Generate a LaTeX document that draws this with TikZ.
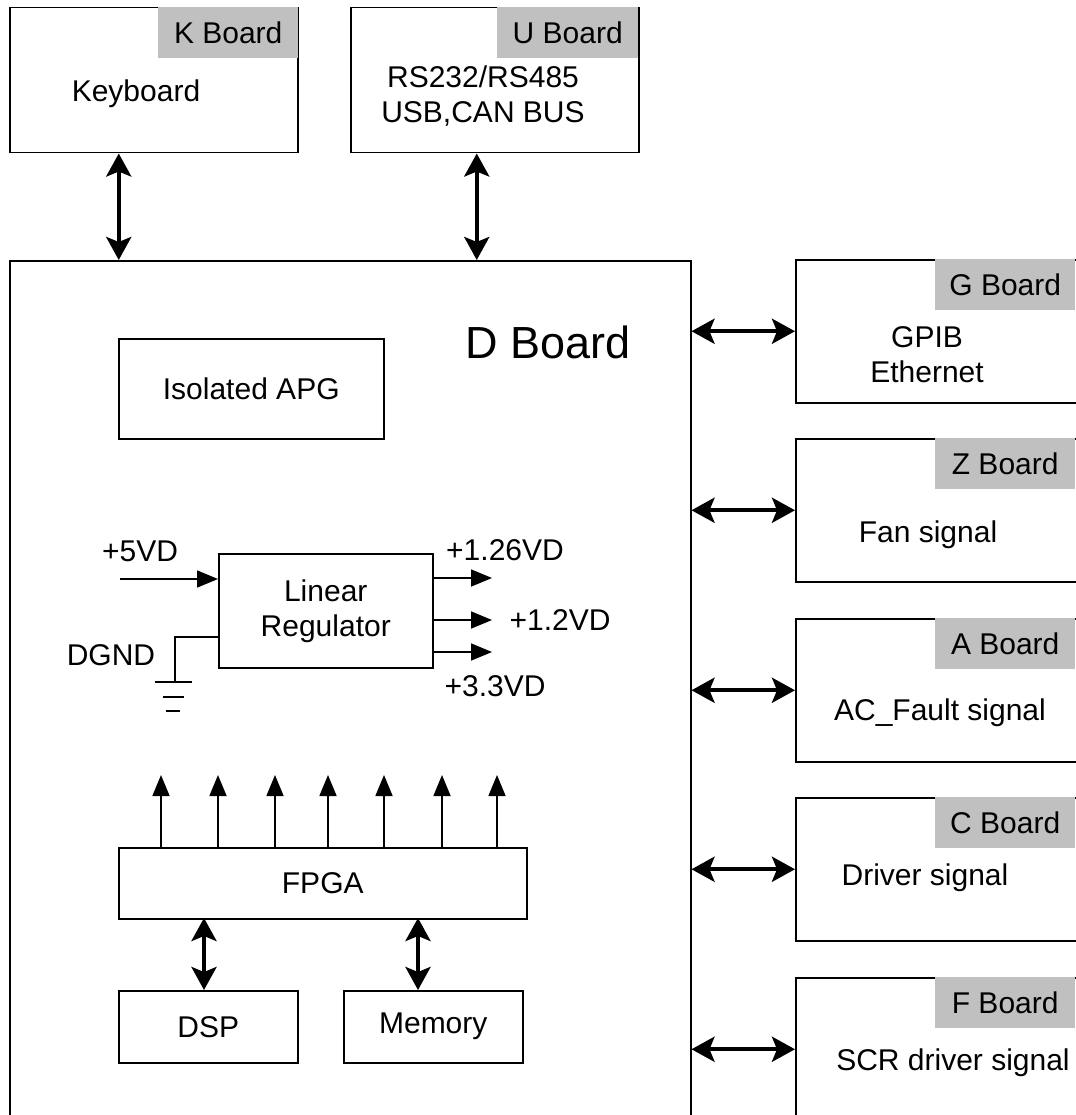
\documentclass[tikz,border=0pt]{standalone}
\usepackage{fontspec}
\setmainfont{Liberation Sans}
\usetikzlibrary{arrows.meta,calc}
\definecolor{lblgray}{RGB}{192,192,192}
\begin{document}
\begin{tikzpicture}[x=1pt,y=-1pt,
  box/.style={draw=black,line width=1.5pt,fill=white,inner sep=0pt,anchor=north west},
  lbl/.style={fill=lblgray,inner sep=0pt,anchor=north west,minimum width=140pt,minimum height=51pt,font=\fontsize{30}{35}\selectfont},
  txt/.style={inner sep=0pt,align=center,font=\fontsize{30}{35}\selectfont},
  dbl/.style={line width=4pt,{Stealth[length=23pt,width=25pt,inset=5pt]}-{Stealth[length=23pt,width=25pt,inset=5pt]}},
  sarr/.style={line width=1.6pt,-{Triangle[length=21pt,width=17pt]}},
  wire/.style={line width=1.6pt}]
\useasboundingbox (0,0) rectangle (1075,1115);
% top boards
\node[box,minimum width=288pt,minimum height=145pt] (K) at (9,7) {};
\node[lbl] (Kl) at (158,7) {K Board};
\node[txt] (Kt) at (136,94) {Keyboard};
\node[box,minimum width=288pt,minimum height=145pt] (U) at (350,7) {};
\node[lbl,minimum width=141pt] (Ul) at (497,7) {U Board};
\node[txt] (Ut) at (483,96) {RS232/RS485\\USB,CAN BUS};
% D board
\node[box,minimum width=681pt,minimum height=900pt] (D) at (9,260) {};
\node[inner sep=0pt,font=\fontsize{45}{50}\selectfont] (Dt) at (548,342) {D Board};
\draw[dbl] ([xshift=-35pt]K.south) -- ([xshift=-35pt]K.south |- D.north);
\draw[dbl] ([xshift=-18pt]U.south) -- ([xshift=-18pt]U.south |- D.north);
% right boards
\foreach \n/\y/\t in {G/259/G Board,Z/438/Z Board,A/618/A Board,C/797/C Board,F/977/F Board}{
  \node[box,minimum width=290pt,minimum height=143pt] (\n) at (795,\y) {};
  \node[lbl] (\n l) at (935,\y) {\t};
  \draw[dbl] (\n.west -| D.east) -- (\n.west);
}
\node[txt] (Gt) at (927,355) {GPIB\\Ethernet};
\node[txt] (Zt) at (928,535) {Fan signal};
\node[txt] (At) at (940,713) {AC\_Fault signal};
\node[txt] (Ct) at (925,878) {Driver signal};
\node[txt] (Ft) at (953,1063) {SCR driver signal};
% inside D board
\node[box,minimum width=265pt,minimum height=100pt] (APG) at (118,338) {};
\node[txt] at (APG.center) {Isolated APG};
\node[box,minimum width=214pt,minimum height=114pt] (R) at (218,553) {};
\node[txt] at (R.center) {Linear\\Regulator};
\coordinate (in5) at (120,579);
\draw[sarr] (in5) -- (in5 -| R.west);
\node[txt] (v5) at (140,551) {+5VD};
\coordinate (o1) at (492,578);
\coordinate (o2) at (492,620);
\coordinate (o3) at (492,652);
\draw[sarr] (o1 -| R.east) -- (o1);
\draw[sarr] (o2 -| R.east) -- (o2);
\draw[sarr] (o3 -| R.east) -- (o3);
\node[txt] (v126) at (505,550) {+1.26VD};
\node[txt] (v12) at (560,620) {+1.2VD};
\node[txt] (v33) at (495,686) {+3.3VD};
\node[txt] (dg) at (111,655) {DGND};
\coordinate (g0) at (175,682);
\draw[wire] (R.west |- 0,637) -- (175,637) -- (g0);
\draw[wire] (155,682) -- (192,682);
\draw[wire] (163,697) -- (184,697);
\draw[wire] (166,711) -- (180,711);
% FPGA
\node[box,minimum width=408pt,minimum height=71pt] (FPGA) at (118,847) {};
\node[txt] at (FPGA.center) {FPGA};
\foreach \x in {161,218,275,328,384,442,497}{
  \coordinate (t\x) at (\x,775);
  \draw[sarr] (t\x |- FPGA.north) -- (t\x);
}
\node[box,minimum width=179pt,minimum height=72pt] (DSP) at (118,990) {};
\node[txt] at (DSP.center) {DSP};
\node[box,minimum width=179pt,minimum height=72pt] (MEM) at (343,990) {};
\node[txt] at (MEM.center) {Memory};
\draw[dbl] (DSP.north -| 204,0) -- (204,918);
\draw[dbl] (MEM.north -| 418,0) -- (418,918);
\end{tikzpicture}
\end{document}
